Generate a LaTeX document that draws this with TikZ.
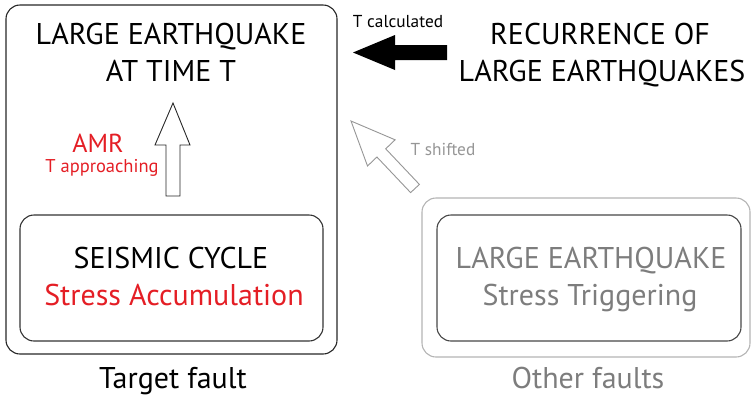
\documentclass[tikz,border=0pt]{standalone}
\usepackage{fontspec}
\setmainfont{PT Sans}
\begin{document}
\definecolor{accred}{RGB}{228,30,37}
\definecolor{midgray}{RGB}{125,125,125}
\definecolor{lightline}{RGB}{180,180,180}
\definecolor{darkline}{RGB}{70,70,70}
\definecolor{arrowgray}{RGB}{150,150,150}
\begin{tikzpicture}[x=1pt,y=-1pt,
  box/.style={draw, rounded corners=14pt, line width=1.1pt, inner sep=0pt},
  big/.style={font=\fontsize{30}{33}\selectfont, anchor=base, inner sep=0pt},
  small/.style={font=\fontsize{17.3}{19}\selectfont, anchor=base, inner sep=0pt},
  blockarrow/.style={draw, line width=0.9pt, fill=white, line join=miter}]
\useasboundingbox (0,0) rectangle (751,397);

% fault boxes
\node[box, draw=black!85, minimum width=331pt, minimum height=349pt] (target) at (171.5,179.5) {};
\node[box, draw=black!80, minimum width=303pt, minimum height=126pt] (cycle) at (171.5,278) {};
\node[box, draw=lightline, minimum width=328pt, minimum height=159pt] (others) at (586,277.5) {};
\node[box, draw=darkline, minimum width=304pt, minimum height=126pt] (trigger) at (589,278) {};

% texts of the target fault
\node[big] (lq) at (171,44) {LARGE EARTHQUAKE};
\node[big] (tt) at (171,81) {AT TIME T};
\node[font=\fontsize{26}{28}\selectfont, anchor=base, inner sep=0pt, text=accred] (amr) at (98,152) {AMR};
\node[small, font=\fontsize{18.5}{20}\selectfont, text=accred] (tapp) at (102,172) {T approaching};
\node[big] (sc) at (171,268) {SEISMIC CYCLE};
\node[big, text=accred] (sa) at (174,305) {Stress Accumulation};
\node[big] (tf) at (173,388) {Target fault};

% recurrence
\node[big] (rec) at (600,44) {RECURRENCE OF};
\node[big] (rle) at (602,81) {LARGE EARTHQUAKES};
\node[small] (tc) at (398,27) {T calculated};

% other faults
\node[big, text=midgray] (ole) at (591,268) {LARGE EARTHQUAKE};
\node[big, text=midgray] (st) at (590,305) {Stress Triggering};
\node[big, text=midgray] (of) at (588,388) {Other faults};
\node[small, text=arrowgray] (ts) at (443,155) {T shifted};

% AMR: hollow arrow pointing up
\draw[blockarrow, draw=black!85] (166,196) -- (166,145) -- (155,145) -- (173,103)
  -- (190,145) -- (180,145) -- (180,196) -- cycle;

% T calculated: solid arrow pointing left
\fill[black] (447,45) -- (395,45) -- (395,35) -- (353,52.5) -- (395,70)
  -- (395,60) -- (447,60) -- cycle;

% T shifted: hollow grey arrow pointing up-left
\draw[blockarrow, draw=arrowgray] (419.4,184.4) -- (385.7,148.8) -- (395.1,139.8)
  -- (351,121) -- (367.5,166.0) -- (376.9,157.0) -- (410.6,192.6) -- cycle;
\end{tikzpicture}
\end{document}
